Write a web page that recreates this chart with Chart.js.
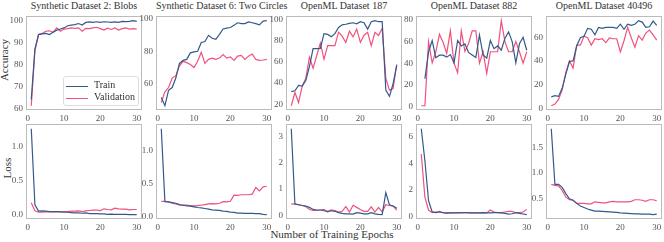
<!DOCTYPE html>
<html>
<head>
<meta charset="utf-8">
<script src="https://cdn.jsdelivr.net/npm/chart.js@4.4.1/dist/chart.umd.min.js"></script>
<style>
  body { margin: 0; background: #fff; width: 664px; height: 242px; position: relative; overflow: hidden;
         font-family: "Liberation Serif", "DejaVu Serif", serif; }
  canvas { position: absolute; }
  .ttl { position: absolute; top: 0; width: 116px; text-align: center; font-size: 10px; color: #333; white-space: nowrap; }
  .ylab { position: absolute; font-size: 11px; color: #333; transform: rotate(-90deg); white-space: nowrap; }
  .xlab { position: absolute; left: 0; width: 664px; top: 228px; text-align: center; font-size: 11px; color: #333; }
  .legend { position: absolute; left: 63px; top: 76px; width: 74px; height: 28px; border: 1px solid #ddd;
            border-radius: 3px; background: rgba(255,255,255,0.85); font-size: 10px; color: #333; }
  .legend div { position: absolute; left: 30px; }
  .legend span { position: absolute; left: 2px; width: 22px; height: 0; border-top: 1.2px solid; }
</style>
</head>
<body>
<div class="ttl" style="left:26px">Synthetic Dataset 2: Blobs</div>
<div class="ttl" style="left:156px">Synthetic Dataset 6: Two Circles</div>
<div class="ttl" style="left:286px">OpenML Dataset 187</div>
<div class="ttl" style="left:416px">OpenML Dataset 882</div>
<div class="ttl" style="left:546px">OpenML Dataset 40496</div>
<div class="ylab" style="left:-17px;top:54px">Accuracy</div>
<div class="ylab" style="left:-3px;top:162px">Loss</div>
<div class="xlab">Number of Training Epochs</div>
<div id="charts"></div>
<div class="legend">
  <span style="top:9px;border-color:#34598a"></span><div style="top:2px">Train</div>
  <span style="top:21px;border-color:#f0527c"></span><div style="top:14px">Validation</div>
</div>
<script>
const epochs = [1,2,3,4,5,6,7,8,9,10,11,12,13,14,15,16,17,18,19,20,21,22,23,24,25,26,27,28,29,30];

// accuracy
const blobsTrainAcc = [64,87,93.5,93.8,94,93.5,94.5,95.5,96,96.5,97.5,97.8,98,98.5,97.8,99,99.2,99,99.3,99,99.3,99.2,99,99.2,99,99.5,99.4,99.5,99.8,99.5];
const blobsValAcc = [61.2,86,93.5,94,95,95.2,94.5,96.5,95,96,96.2,96.5,96.3,96.5,95,96.3,96.2,96.5,96.8,96.2,95.5,96.4,95.8,96.5,95.5,96.2,96.5,96,96.2,96];
const circlesTrainAcc = [51.5,46.5,56,57.7,63.5,72.5,74.4,75,79,79.6,80,85.4,86,89.8,88,87.3,90.4,93.7,94.2,94.6,96,97.5,97,97,98,97.5,97,96.2,98.5,98.8];
const circlesValAcc = [48.5,55,57.7,63.5,65,71,73.8,73,71.9,70,73.8,79.4,72.5,75,75.8,75,75.8,78,75.8,76.5,74.4,77,77.5,75,77,78.3,75,74.4,74.6,75];
const ml187TrainAcc = [31.9,32.7,37.8,37,42.4,55.7,72.6,72.6,72.7,86.7,86,83.7,86.7,92.6,95,95.6,96.4,97,96,98,97,91,98,99,98,98,33.3,27.4,39.3,57];
const ml187ValAcc = [18.5,31,21.5,37,44.6,64.4,54,66,77.8,62.4,75.4,75.4,75.4,88.1,84.3,78.4,89,83.7,91,78.4,85.2,88,75.4,88,85,91.8,44.4,33.3,34.8,57.5];
const ml882TrainAcc = [null,25.6,50.6,61,45,47.4,47.4,45.6,48,40.3,61,56,58,50,47.6,45.3,66,47.6,44.7,61,53.5,56,52,63,69,60,40.3,58,64,52];
const ml882ValAcc = [0.6,0.6,60,40.3,50.6,66.8,59.4,49,70,40,31,70,51,58,70,70,40,50.6,30.5,50.6,50.6,50.6,79.4,60,50.6,50.6,60,50.6,40,50.6];
const ml40496TrainAcc = [9.6,10.7,10,16.8,28.8,39.5,40,52.8,59.5,60.8,67.5,66.7,62,68.3,67.5,68.3,68.3,68.3,67.5,71,66.7,71,70,71,74,72.8,68.3,68.8,73.6,70];
const ml40496ValAcc = [2.1,3.5,7.5,15.5,30,40,34,53.3,53.3,60.8,59.5,53.3,58.7,58,58.7,55.5,59.5,58.7,58.7,47.5,57,68.3,59.5,51.5,61.3,57.6,63.5,66,62,57.6];

// loss
const blobsTrainLoss = [1.26,0.15,0.057,0.06,0.055,0.05,0.05,0.05,0.045,0.04,0.04,0.035,0.03,0.03,0.025,0.03,0.02,0.02,0.02,0.015,0.015,0.01,0.012,0.01,0.01,0.008,0.008,0.006,0.006,0.004];
const blobsValLoss = [0.18,0.06,0.04,0.04,0.045,0.045,0.05,0.045,0.05,0.05,0.05,0.055,0.055,0.06,0.05,0.06,0.065,0.07,0.07,0.065,0.09,0.08,0.075,0.1,0.09,0.085,0.085,0.075,0.08,0.08];
const circlesTrainLoss = [1.34,0.225,0.22,0.21,0.2,0.18,0.17,0.16,0.155,0.145,0.135,0.13,0.12,0.11,0.1,0.095,0.09,0.08,0.075,0.065,0.06,0.05,0.048,0.046,0.045,0.045,0.04,0.04,0.03,0.025];
const circlesValLoss = [0.23,0.23,0.22,0.2,0.19,0.175,0.17,0.17,0.165,0.16,0.165,0.17,0.18,0.19,0.195,0.19,0.2,0.225,0.22,0.23,0.325,0.32,0.33,0.33,0.33,0.34,0.44,0.39,0.45,0.46];
const ml187TrainLoss = [3.3,0.43,0.4,0.37,0.35,0.3,0.22,0.2,0.2,0.17,0.15,0.17,0.15,0.1,0.07,0.05,0.05,0.04,0.1,0.08,0.05,0.05,0.1,0.05,0.03,0.02,0.86,0.4,0.35,0.27];
const ml187ValLoss = [0.43,0.42,0.4,0.37,0.33,0.22,0.18,0.18,0.2,0.22,0.12,0.2,0.18,0.12,0.15,0.33,0.12,0.38,0.3,0.22,0.15,0.15,0.32,0.12,0.3,0.13,0.4,0.37,0.35,0.2];
const ml882TrainLoss = [6.6,4.2,1.2,0.36,0.3,0.35,0.3,0.28,0.28,0.28,0.29,0.3,0.3,0.29,0.28,0.28,0.29,0.3,0.29,0.28,0.3,0.3,0.28,0.25,0.2,0.22,0.3,0.25,0.2,0.15];
const ml882ValLoss = [4.7,1.45,0.5,0.3,0.35,0.4,0.3,0.25,0.28,0.3,0.3,0.29,0.3,0.3,0.29,0.28,0.28,0.28,0.28,0.5,0.35,0.3,0.3,0.35,0.4,0.4,0.3,0.3,0.35,0.55];
const ml40496TrainLoss = [1.86,0.78,0.78,0.72,0.6,0.5,0.47,0.41,0.36,0.33,0.3,0.28,0.26,0.26,0.255,0.25,0.245,0.24,0.235,0.225,0.22,0.215,0.21,0.205,0.205,0.2,0.2,0.2,0.19,0.2];
const ml40496ValLoss = [0.78,0.76,0.75,0.66,0.53,0.48,0.47,0.41,0.41,0.41,0.4,0.4,0.44,0.43,0.42,0.42,0.44,0.45,0.44,0.44,0.44,0.44,0.45,0.48,0.48,0.47,0.45,0.48,0.48,0.46];

// tick labels
const xTicks = [0, 10, 20, 30];
const accTicks = [[60,70,80,90,100], [60,80,100], [20,40,60,80,100], [0,20,40,60,80], [0,20,40,60]];
const lossTicks = [[0,0.5,1.0], [0,0.5,1.0], [0,1,2,3], [0,2,4,6], [0.5,1.0,1.5]];

const trainColor = '#34598a';
const valColor = '#f0527c';
const panelLeft = [26, 156, 286, 416, 546];
const panelW = 116;

const framePlugin = {
  id: 'frame',
  afterDraw(chart) {
    const { ctx, chartArea: a } = chart;
    ctx.save();
    ctx.strokeStyle = '#bbbbbb';
    ctx.lineWidth = 1;
    ctx.strokeRect(Math.round(a.left) + 0.5, Math.round(a.top) + 0.5,
                   Math.round(a.right - a.left) - 1, Math.round(a.bottom - a.top) - 1);
    ctx.restore();
  }
};

function limits(a, b) {
  const vals = a.concat(b).filter(v => v !== null);
  const lo = Math.min(...vals), hi = Math.max(...vals);
  const m = (hi - lo) * 0.05;
  return [lo - m, hi + m];
}

function makePanel(col, top, plotH, train, val, ticks, decimals) {
  const c = document.createElement('canvas');
  const w = 26 + panelW + 4, h = 4 + plotH + 14;
  c.width = w; c.height = h;
  c.style.left = (panelLeft[col] - 26) + 'px';
  c.style.top = (top - 4) + 'px';
  document.getElementById('charts').appendChild(c);
  const [ymin, ymax] = limits(train, val);
  const font = { family: '"Liberation Serif", serif', size: 9 };
  new Chart(c, {
    type: 'line',
    data: {
      datasets: [
        { label: 'Train', data: epochs.map((e, i) => ({ x: e, y: train[i] })), borderColor: trainColor, borderWidth: 1.2, pointRadius: 0, spanGaps: false },
        { label: 'Validation', data: epochs.map((e, i) => ({ x: e, y: val[i] })), borderColor: valColor, borderWidth: 1.2, pointRadius: 0 }
      ]
    },
    options: {
      responsive: false, animation: false, devicePixelRatio: 1,
      layout: { padding: { top: 4, right: 4, left: 0, bottom: 0 } },
      plugins: { legend: { display: false }, tooltip: { enabled: false } },
      scales: {
        x: {
          type: 'linear', min: -0.45, max: 31.45,
          grid: { display: false, drawTicks: false }, border: { display: false },
          afterBuildTicks: s => { s.ticks = xTicks.map(v => ({ value: v })); },
          afterFit: s => { s.height = 14; },
          ticks: { font, color: '#555', padding: 3, maxRotation: 0 }
        },
        y: {
          min: ymin, max: ymax,
          grid: { display: false, drawTicks: false }, border: { display: false },
          afterBuildTicks: s => { s.ticks = ticks.map(v => ({ value: v })); },
          afterFit: s => { s.width = 26; },
          ticks: { font, color: '#555', padding: 3, callback: v => v.toFixed(decimals) }
        }
      }
    },
    plugins: [framePlugin]
  });
}

const accTrain = [blobsTrainAcc, circlesTrainAcc, ml187TrainAcc, ml882TrainAcc, ml40496TrainAcc];
const accVal = [blobsValAcc, circlesValAcc, ml187ValAcc, ml882ValAcc, ml40496ValAcc];
const lossTrain = [blobsTrainLoss, circlesTrainLoss, ml187TrainLoss, ml882TrainLoss, ml40496TrainLoss];
const lossVal = [blobsValLoss, circlesValLoss, ml187ValLoss, ml882ValLoss, ml40496ValLoss];
const lossDecimals = [1, 1, 0, 0, 1];

for (let i = 0; i < 5; i++) {
  makePanel(i, 12, 98, accTrain[i], accVal[i], accTicks[i], 0);
  makePanel(i, 120, 99, lossTrain[i], lossVal[i], lossTicks[i], lossDecimals[i]);
}
</script>
</body>
</html>
